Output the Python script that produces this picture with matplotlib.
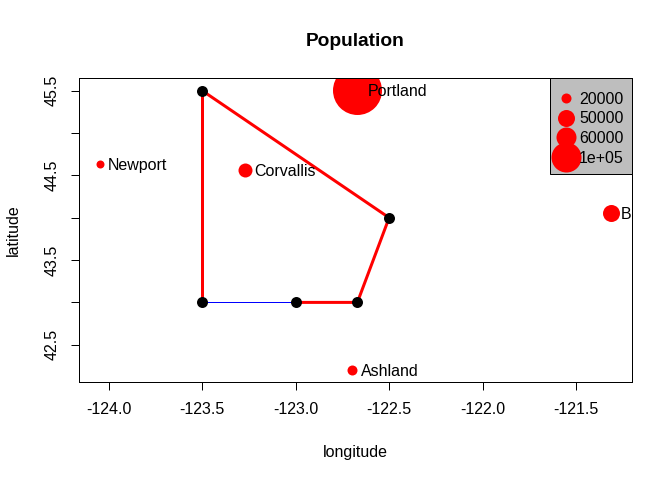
import matplotlib
matplotlib.use("Agg")
import matplotlib.pyplot as plt
from matplotlib.lines import Line2D
from matplotlib.patches import Rectangle

plt.rcParams['font.family'] = ['Liberation Sans', 'DejaVu Sans']

# cities
city_names = ["Portland", "Corvallis", "Newport", "Ashland", "B"]
city_lon = [-122.67, -123.27, -124.05, -122.70, -121.31]
city_lat = [45.51, 44.56, 44.63, 42.20, 44.05]
city_size_px = [49, 14, 8, 10, 17]  # marker diameter

# polygon
poly_lon = [-123.5, -122.5, -122.67, -123.0, -123.5]
poly_lat = [45.5, 44.0, 43.0, 43.0, 43.0]

# legend
legend_labels = ["20000", "50000", "60000", "1e+05"]
legend_size_px = [10, 17, 20, 30]

x_ticks = [-124.0, -123.5, -123.0, -122.5, -122.0, -121.5]
y_ticks = [42.5, 43.0, 43.5, 44.0, 44.5, 45.0, 45.5]
y_ticklabels = ["42.5", "", "43.5", "", "44.5", "", "45.5"]

W, H = 672, 480
px = 72 / 100  # points per pixel

fig = plt.figure(figsize=(W / 100, H / 100), dpi=100)
ax_w, ax_h = 632 - 79, 382 - 78
ax = fig.add_axes([79 / W, 1 - 382 / H, ax_w / W, ax_h / H])
ax.set_xlim(-124.16, -121.2)
ax.set_ylim(42.06, 45.65)

fs = 11.5
for lon, lat, d in zip(city_lon, city_lat, city_size_px):
    ax.plot(lon, lat, 'o', color='red', ms=d * px, mew=0, zorder=2)

# red outline, the last edge is thin and blue
ax.plot(poly_lon[:4], poly_lat[:4], color='red', lw=3 * px, zorder=3)
ax.plot([poly_lon[0], poly_lon[4]], [poly_lat[0], poly_lat[4]], color='red', lw=3 * px, zorder=3)
ax.plot(poly_lon[3:], poly_lat[3:], color='blue', lw=1 * px, zorder=3)
ax.plot(poly_lon, poly_lat, 'o', color='black', ms=11 * px, mew=0, zorder=4)

# label offset to the right of each city
offsets = [10, 9, 8, 9, 9]
for name, lon, lat, off in zip(city_names, city_lon, city_lat, offsets):
    ax.annotate(name, (lon, lat), xytext=(off * px, -1.2 * px), textcoords='offset points',
                fontsize=fs, va='center', ha='left', zorder=5)

# grey legend box, drawn by hand so its padding can differ top and bottom
box_w, box_h = 82, 96
ax.add_patch(Rectangle((1 - box_w / ax_w, 1 - box_h / ax_h), box_w / ax_w, box_h / ax_h,
                       transform=ax.transAxes, facecolor='#BEBEBE', edgecolor='black',
                       lw=1 * px, zorder=5.5, clip_on=False))
handles = [Line2D([], [], ls='', marker='o', color='red', ms=d * px, mew=0) for d in legend_size_px]
leg = ax.legend(handles, legend_labels, loc='upper right', bbox_to_anchor=(1 - 8 / ax_w, 1 - 13.5 / ax_h),
                borderaxespad=0, fontsize=fs, frameon=False, borderpad=0,
                labelspacing=0.3, handlelength=0.875, handletextpad=0.4)
leg.set_zorder(6)

ax.set_xticks(x_ticks)
ax.set_xticklabels(["%.1f" % v for v in x_ticks], fontsize=fs)
ax.set_yticks(y_ticks)
ax.set_yticklabels(y_ticklabels, fontsize=fs, rotation=90, va='center')
ax.tick_params(length=8 * px, width=1 * px, pad=8)
ax.tick_params(axis='x', pad=9)
for s in ax.spines.values():
    s.set_linewidth(1 * px)

fig.text(355 / W, 1 - 42 / H, "Population", fontsize=13.8, fontweight='bold', ha='center', va='center')
fig.text(355 / W, 1 - 453 / H, "longitude", fontsize=fs, ha='center', va='center')
fig.text(13 / W, 1 - 230 / H, "latitude", fontsize=fs, rotation=90, ha='center', va='center')

fig.savefig("out.png", dpi=100)
